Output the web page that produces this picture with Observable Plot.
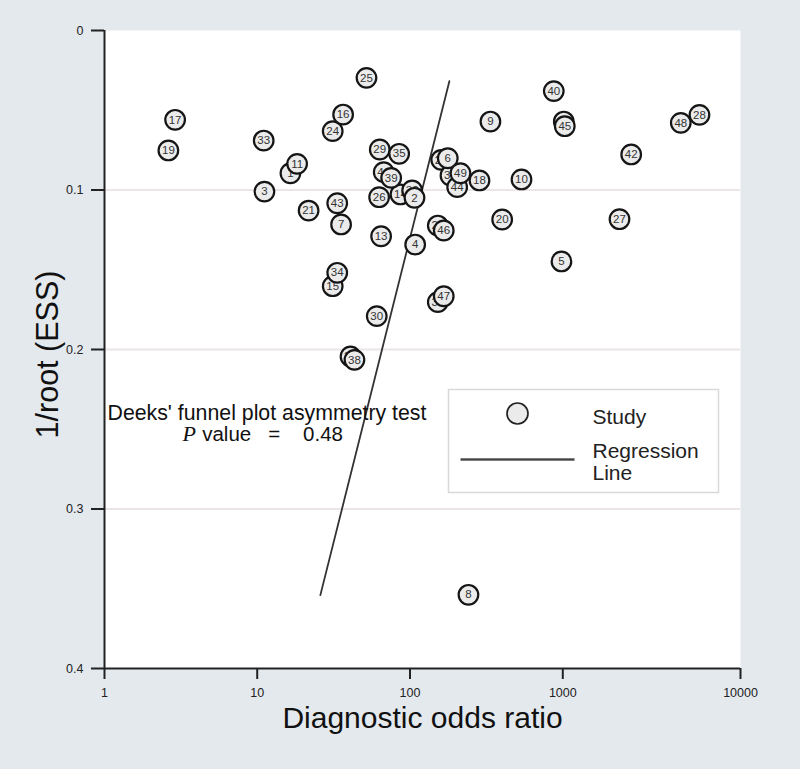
<!DOCTYPE html>
<html>
<head>
<meta charset="utf-8">
<script src="https://cdn.jsdelivr.net/npm/d3@7"></script>
<script src="https://cdn.jsdelivr.net/npm/@observablehq/plot@0.6"></script>
<style>
  html, body { margin: 0; padding: 0; background: #e4e9ee; }
  #chart svg { display: block; }
</style>
</head>
<body>
<div id="chart"></div>
<script>
// Study labels, listed in drawing order (partly hidden circles first)
const studies = [1, 41, 14, 32, 23, 31, 12, 22, 37, 36, 24, 48,
  2, 3, 4, 5, 6, 7, 8, 9, 10, 11, 13, 15, 16, 17, 18, 19, 20, 21, 25, 26, 27, 28,
  29, 30, 33, 34, 35, 38, 39, 40, 42, 43, 44, 45, 46, 47, 49];
// Diagnostic odds ratio of each study
const dor = [16.5, 67.3, 86.6, 103.3, 160, 184, 1013, 152, 152, 40.8, 31.2, 4613,
  107, 11.15, 108.1, 980, 176.7, 35.4, 241.3, 336, 536.6, 18.25, 64.7, 31.2, 36.5, 2.90, 284.9, 2.62, 401, 21.7, 51.9, 62.8, 2085, 5875,
  63.4, 60.6, 11.03, 33.4, 84.9, 43.3, 75.3, 873, 2426, 33.4, 203.6, 1026, 166.3, 166.3, 213.9];
// 1/root(ESS) of each study
const invRootESS = [0.0895, 0.0888, 0.1028, 0.1003, 0.0811, 0.0909, 0.0571, 0.1223, 0.1703, 0.2044, 0.0631, 0.0579,
  0.1049, 0.101, 0.1342, 0.1448, 0.0801, 0.1216, 0.3538, 0.0571, 0.0934, 0.0836, 0.129, 0.1603, 0.0527, 0.056, 0.094, 0.0752, 0.1185, 0.1129, 0.0297, 0.1045, 0.1183, 0.0529,
  0.0746, 0.1791, 0.069, 0.1519, 0.0773, 0.2065, 0.0924, 0.038, 0.0777, 0.1083, 0.0982, 0.060, 0.1254, 0.1666, 0.0895];

// Regression line end points
const regDOR = [25.9, 181];
const regY = [0.354, 0.0318];

// Ticks
const xTicks = [1, 10, 100, 1000, 10000];
const yTicks = [0, 0.1, 0.2, 0.3, 0.4];
const gridY = [0.1, 0.2, 0.3];

// Texts
const xTitle = "Diagnostic odds ratio";
const yTitle = "1/root (ESS)";
const testTitle = "Deeks' funnel plot asymmetry test";
const pLetter = "P";
const pValueText = "value\u00a0\u00a0\u00a0=\u00a0\u00a0\u00a0\u00a00.48";
const legendStudy = "Study";
const legendReg1 = "Regression";
const legendReg2 = "Line";

const rows = studies.map((s, i) => ({study: s, dor: dor[i], y: invRootESS[i]}));
const regRows = regDOR.map((v, i) => ({dor: v, y: regY[i]}));

const studyMarks = rows.flatMap(d => [
  Plot.dot([d], {x: "dor", y: "y", r: 9.8, fill: "#ebebeb", stroke: "#151515", strokeWidth: 2.2}),
  Plot.text([d], {x: "dor", y: "y", text: r => String(r.study), fontSize: 11.5, fill: "#333"})
]);

const sans = "'Liberation Sans', Arial, Helvetica, sans-serif";

const chart = Plot.plot({
  width: 800,
  height: 769,
  marginLeft: 104,
  marginRight: 60,
  marginTop: 30,
  marginBottom: 101,
  style: {background: "#e4e9ee", fontFamily: sans, overflow: "visible"},
  x: {type: "log", domain: xTicks, range: [104, 256.7, 409.5, 562.3, 740]},
  y: {domain: [0, 0.4], reverse: true},
  marks: [
    Plot.frame({fill: "white", stroke: null}),
    Plot.ruleY(gridY, {stroke: "#ece5e5", strokeWidth: 2}),
    Plot.line(regRows, {x: "dor", y: "y", stroke: "#333", strokeWidth: 1.8}),
    ...studyMarks,
    Plot.ruleX([1], {stroke: "#222", strokeWidth: 2}),
    Plot.ruleY([0.4], {stroke: "#222", strokeWidth: 2}),
    Plot.axisX({ticks: xTicks, tickFormat: d => String(d), tickSize: 11, tickPadding: 9, fontSize: 12.5, color: "#222", strokeWidth: 2, label: null}),
    Plot.axisY({ticks: yTicks, tickFormat: d => String(d), tickSize: 13, tickPadding: 8, fontSize: 12.5, color: "#222", strokeWidth: 2, label: null}),
    // axis titles
    Plot.text([xTitle], {text: d => d, frameAnchor: "bottom", dy: 50, lineAnchor: "middle", fontSize: 30, fill: "#111"}),
    Plot.text([yTitle], {text: d => d, frameAnchor: "left", dx: -56, dy: 5, rotate: -90, lineAnchor: "middle", textAnchor: "middle", fontSize: 30.5, fill: "#111"}),
    // asymmetry test annotation
    Plot.text([testTitle], {text: d => d, frameAnchor: "top-left", dx: 3, dy: 389, textAnchor: "start", lineAnchor: "bottom", fontSize: 21.3, fill: "#111"}),
    Plot.text([pLetter], {text: d => d, frameAnchor: "top-left", dx: 78, dy: 410, textAnchor: "start", lineAnchor: "bottom", fontSize: 22, fontStyle: "italic", fontFamily: "'Liberation Serif', 'DejaVu Serif', serif", fill: "#111"}),
    Plot.text([pValueText], {text: d => d, frameAnchor: "top-left", dx: 97.7, dy: 410, textAnchor: "start", lineAnchor: "bottom", fontSize: 20.5, fill: "#111"}),
    // legend
    Plot.frame({insetLeft: 344, insetTop: 359, insetRight: 22, insetBottom: 176, fill: "white", stroke: "#d9d9d9", strokeWidth: 1.5}),
    Plot.dot([legendStudy], {frameAnchor: "top-left", dx: 413, dy: 383, r: 10.5, fill: "#ebebeb", stroke: "#222", strokeWidth: 1.7}),
    Plot.frame({insetLeft: 356, insetRight: 166, insetTop: 427.8, insetBottom: 207.8, fill: "#444", stroke: null}),
    Plot.text([legendStudy], {text: d => d, frameAnchor: "top-left", dx: 488, dy: 393, textAnchor: "start", lineAnchor: "bottom", fontSize: 21, fill: "#222"}),
    Plot.text([legendReg1], {text: d => d, frameAnchor: "top-left", dx: 488, dy: 427, textAnchor: "start", lineAnchor: "bottom", fontSize: 21, fill: "#222"}),
    Plot.text([legendReg2], {text: d => d, frameAnchor: "top-left", dx: 488, dy: 449, textAnchor: "start", lineAnchor: "bottom", fontSize: 21, fill: "#222"})
  ]
});

document.getElementById("chart").appendChild(chart);
</script>
</body>
</html>
